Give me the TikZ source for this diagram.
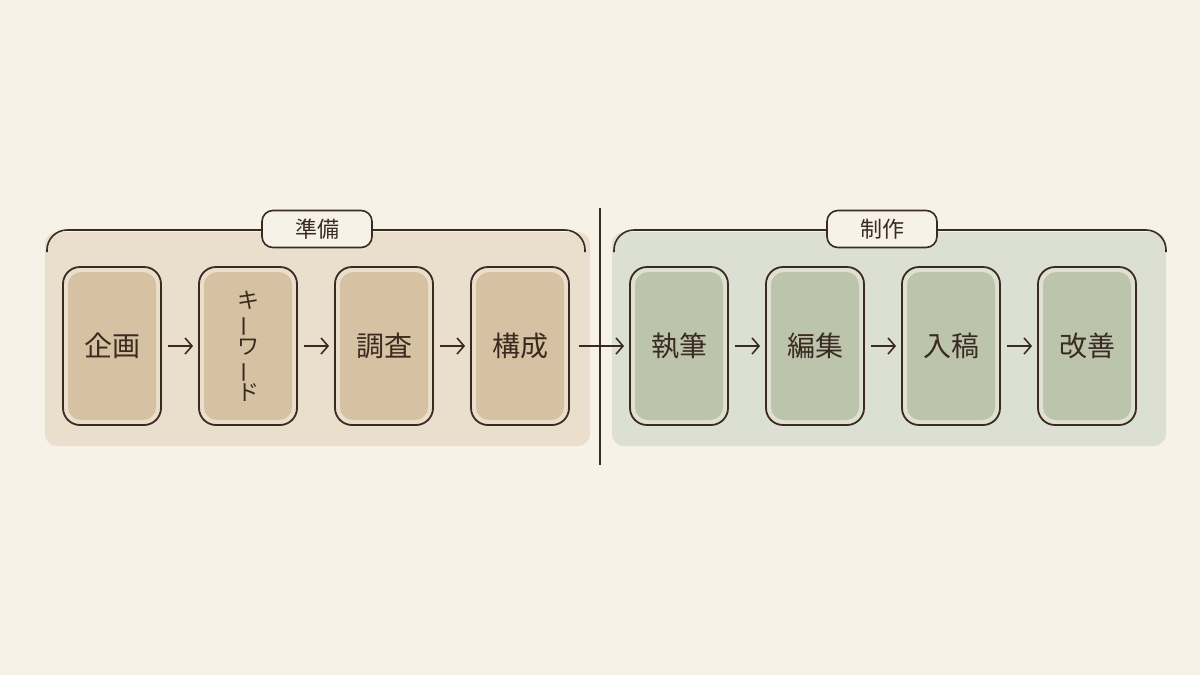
\documentclass[tikz,border=0pt]{standalone}
\usepackage{fontspec}
\newfontfamily\cjk{Noto Sans CJK JP}
\usepackage{graphicx}
\usetikzlibrary{arrows.meta}
\definecolor{bg}{HTML}{F6F2E8}
\definecolor{ink}{HTML}{3A2A22}
\definecolor{bwash}{HTML}{EADFCC}
\definecolor{bbox}{HTML}{D6C2A3}
\definecolor{gwash}{HTML}{DCE0D2}
\definecolor{gbox}{HTML}{BCC4AC}
\begin{document}
\begin{tikzpicture}[x=1pt,y=-1pt,
 stage/.style={draw=ink,line width=1.8pt,rounded corners=17pt,minimum width=98pt,minimum height=158pt,inner sep=0pt,font=\cjk\fontsize{28}{30}\selectfont,text=ink,fill=bg!60!#1,
   path picture={\fill[#1,rounded corners=13pt] ([shift={(5pt,5pt)}]path picture bounding box.south west) rectangle ([shift={(-5pt,-5pt)}]path picture bounding box.north east);}},
 lbl/.style={draw=ink,line width=1.6pt,rounded corners=11pt,fill=bg,minimum width=110pt,minimum height=37pt,inner sep=0pt,font=\cjk\fontsize{22}{24}\selectfont,text=ink},
 arr/.style={draw=ink,line width=1.6pt,-{Straight Barb[length=7pt,width=16pt,line width=1.6pt]}},
 br/.style={draw=ink,line width=1.6pt,rounded corners=20pt}]
\fill[bg] (0,0) rectangle (1200,675);
\useasboundingbox (0,0) rectangle (1200,675);
\fill[bwash,rounded corners=12pt] (45,232) rectangle (590,446);
\fill[gwash,rounded corners=12pt] (612,232) rectangle (1166,446);
\draw[br] (47,252) -- (47,230) -- (585,230) -- (585,252);
\draw[br] (614,252) -- (614,230) -- (1166,230) -- (1166,252);
\node[lbl] (p) at (317,229) {準備};
\node[lbl] (s) at (882,229) {制作};
\draw[ink,line width=1.2pt] (600,208) coordinate (d1) -- (600,465) coordinate (d2);
\node[stage=bbox] (a1) at (112,346) {企画};
\node[stage=bbox,font=\cjk\fontsize{22}{24}\selectfont,align=center] (a2) at (248,346) {キ\\[-1pt]\rotatebox[origin=c]{90}{ー}\\[-1pt]ワ\\[-1pt]\rotatebox[origin=c]{90}{ー}\\[-1pt]ド};
\node[stage=bbox] (a3) at (384,346) {調査};
\node[stage=bbox] (a4) at (520,346) {構成};
\node[stage=gbox] (b1) at (679,346) {執筆};
\node[stage=gbox] (b2) at (815,346) {編集};
\node[stage=gbox] (b3) at (951,346) {入稿};
\node[stage=gbox] (b4) at (1087,346) {改善};
\draw[arr] ([xshift=6pt]a1.east) -- ([xshift=-5pt]a2.west);
\draw[arr] ([xshift=6pt]a2.east) -- ([xshift=-5pt]a3.west);
\draw[arr] ([xshift=6pt]a3.east) -- ([xshift=-5pt]a4.west);
\draw[arr] ([xshift=9pt]a4.east) -- ([xshift=-5pt]b1.west);
\draw[arr] ([xshift=6pt]b1.east) -- ([xshift=-5pt]b2.west);
\draw[arr] ([xshift=6pt]b2.east) -- ([xshift=-5pt]b3.west);
\draw[arr] ([xshift=6pt]b3.east) -- ([xshift=-5pt]b4.west);
\end{tikzpicture}
\end{document}
